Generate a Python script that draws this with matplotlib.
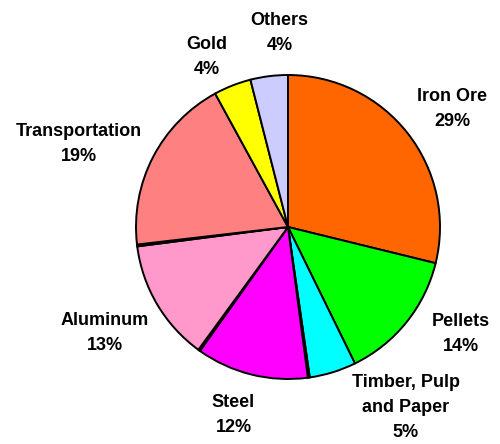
import matplotlib
matplotlib.use("Agg")
import matplotlib.pyplot as plt
import numpy as np

plt.rcParams['font.family'] = ['Liberation Sans', 'DejaVu Sans']

# shares of the pie, clockwise from 12 o'clock (blank names = unlabeled slivers)
names = ["Iron Ore", "Pellets", "Timber, Pulp\nand Paper", "", "Steel", "",
         "Aluminum", "", "Transportation", "Gold", "Others"]
shares = [29, 14, 5, 0.2, 12, 0.2, 13, 0.2, 19, 4, 4]
colors = ["#FF6600", "#00FF00", "#00FFFF", "#FFFFFF", "#FF00FF", "#FFFFFF",
          "#FF99CC", "#FFFFFF", "#FF8080", "#FFFF00", "#CCCCFF"]
# label placement: distance from centre and angle nudge (deg) from wedge middle
label_dist = [1.33, 1.34, 1.42, 1.3, 1.29, 1.3, 1.39, 1.3, 1.48, 1.24, 1.28]
label_nudge = [-2.5, 7, 15.9, 0, -2.2, 0, -0.6, 0, 5.6, 4.2, -4.6]

labels = [f"{n}\n{v:g}%" if n else "" for n, v in zip(names, shares)]

fig = plt.figure(figsize=(5, 4.44), dpi=100)
ax = fig.add_axes([0, 0, 1, 1])

wedges, texts = ax.pie(shares, labels=labels, colors=colors, startangle=90,
                       counterclock=False, radius=1.0, labeldistance=1.3,
                       wedgeprops=dict(edgecolor="black", linewidth=1.4))

for w, t, d, nudge in zip(wedges, texts, label_dist, label_nudge):
    ang = np.deg2rad((w.theta1 + w.theta2) / 2 + nudge)
    t.set_position((d * np.cos(ang), d * np.sin(ang)))
    t.set_ha("center")
    t.set_va("center")
    t.set_fontsize(13)
    t.set_fontweight("bold")
    t.set_linespacing(1.62)

ax.set_aspect("auto")
ax.set_xlim(-288 / 152, 212 / 152)
ax.set_ylim(-217 / 152, 227 / 152)
ax.axis("off")

fig.savefig("out.png", dpi=100)
